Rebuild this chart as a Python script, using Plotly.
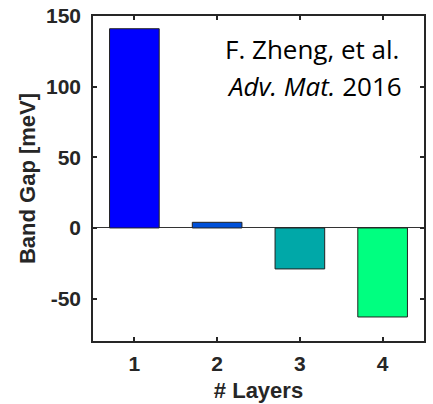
import plotly.graph_objects as go

layers = [1, 2, 3, 4]
band_gap = [141, 4, -29, -63]
bar_colors = ["#0000FF", "#0050D8", "#00A8A8", "#00FF80"]
y_ticks = [-50, 0, 50, 100, 150]

fig = go.Figure()
fig.add_trace(go.Bar(
    x=layers, y=band_gap, width=0.6,
    marker=dict(color=bar_colors, line=dict(color="#222222", width=1)),
))

tick_font = dict(family="Liberation Sans, Arial", size=21, color="#262626")
title_font = dict(family="Liberation Sans, Arial", size=22, color="#262626")
fig.update_layout(
    width=433, height=404,
    margin=dict(l=93, r=9, t=16, b=63),
    paper_bgcolor="white", plot_bgcolor="white",
    showlegend=False,
    font=dict(family="Liberation Sans, Arial", color="#262626"),
    xaxis=dict(
        range=[0.5, 4.5], tickvals=layers, ticktext=[f"<b>{v}</b>" for v in layers],
        ticks="inside", ticklen=4, tickwidth=1.5, tickcolor="#262626",
        showline=True, linecolor="#262626", linewidth=1.5, mirror="ticks",
        showgrid=False, zeroline=False, automargin=False,
        tickfont=tick_font, ticklabelstandoff=3,
        title=dict(text="<b># Layers</b>", font=title_font, standoff=9),
    ),
    yaxis=dict(
        range=[-80, 150], tickvals=y_ticks, ticktext=[f"<b>{v}</b>" for v in y_ticks],
        ticks="inside", ticklen=4, tickwidth=1.5, tickcolor="#262626",
        showline=True, linecolor="#262626", linewidth=1.5, mirror="ticks",
        showgrid=False, zeroline=True, zerolinecolor="#333333", zerolinewidth=1,
        automargin=False,
        tickfont=tick_font, ticklabelstandoff=6,
        title=dict(text="<b>Band Gap [meV]</b>", font=title_font, standoff=4),
    ),
    annotations=[
        dict(
            text="F. Zheng, et al.",
            xref="paper", yref="paper", x=0.662, y=0.898,
            xanchor="center", yanchor="middle", showarrow=False,
            font=dict(family="Open Sans", size=26, color="black"),
        ),
        dict(
            text="<i>Adv. Mat.</i> 2016",
            xref="paper", yref="paper", x=0.669, y=0.785,
            xanchor="center", yanchor="middle", showarrow=False,
            font=dict(family="Open Sans", size=26, color="black"),
        ),
    ],
)

fig.write_html("out.html", post_script="document.body.style.margin='0';",
               config={"displayModeBar": False})
